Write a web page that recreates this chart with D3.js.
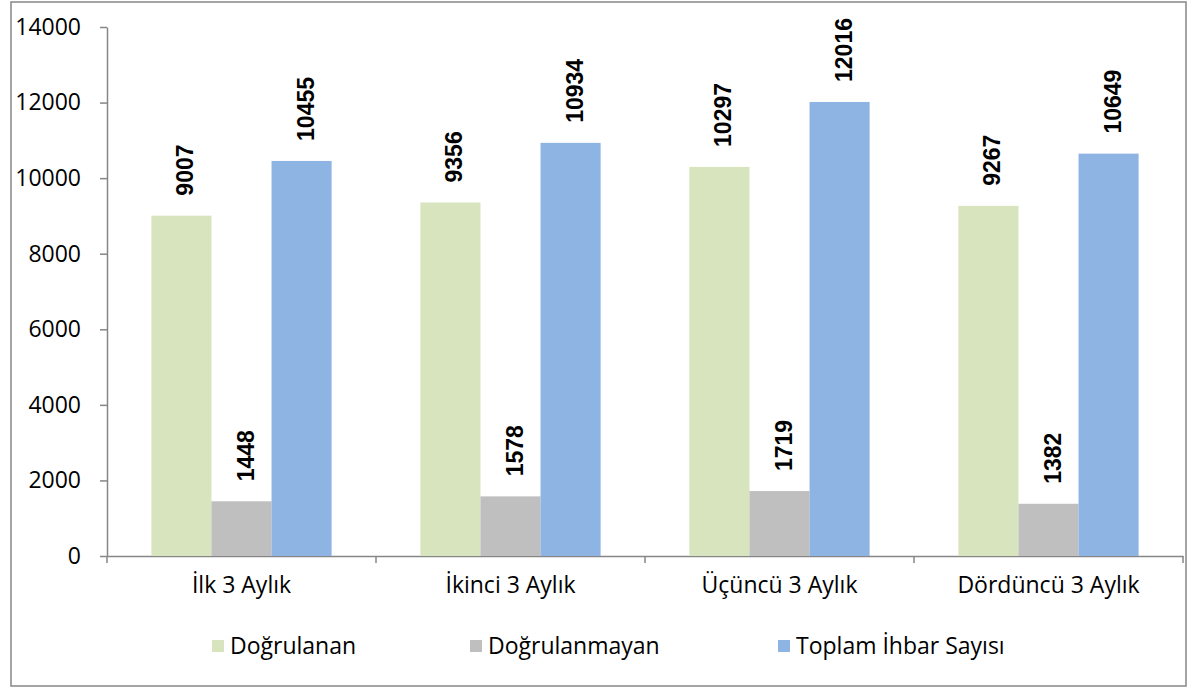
<!DOCTYPE html>
<meta charset="utf-8">
<style>
    body { margin: 0; background: #fff; }
    svg { display: block; font-family: "Open Sans", sans-serif; }
    .frame { fill: #fff; stroke: #868686; stroke-width: 1.5px; }
    .axis path, .axis line { stroke: #868686; stroke-width: 1.5px; }
    .axis text { fill: #000; font-size: 23px; font-family: "Open Sans", sans-serif; }
    .val { font: bold 23px "Liberation Sans", Arial, sans-serif; fill: #000; }
    .legend text { font-size: 23px; fill: #000; }
</style>
<body>
<script src="https://cdn.jsdelivr.net/npm/d3@7"></script>
<script>
    var categories = ["İlk 3 Aylık", "İkinci 3 Aylık", "Üçüncü 3 Aylık", "Dördüncü 3 Aylık"];
    var seriesNames = ["Doğrulanan", "Doğrulanmayan", "Toplam İhbar Sayısı"];
    var dogrulanan = [9007, 9356, 10297, 9267];
    var dogrulanmayan = [1448, 1578, 1719, 1382];
    var toplam = [10455, 10934, 12016, 10649];
    var yTicks = [0, 2000, 4000, 6000, 8000, 10000, 12000, 14000];
    var colors = ["#d7e4bd", "#bfbfbf", "#8eb4e3"];

    var series = [dogrulanan, dogrulanmayan, toplam];

    var width = 1191, height = 689;
    var margin = {left: 107, right: 8, top: 27, bottom: 133};

    var svg = d3.select("body").append("svg")
        .attr("width", width)
        .attr("height", height);

    svg.append("rect").attr("class", "frame")
        .attr("x", 11).attr("y", 2)
        .attr("width", 1175).attr("height", 684);

    var x0 = d3.scaleBand()
        .domain(categories)
        .range([margin.left, width - margin.right])
        .paddingInner(0).paddingOuter(0);

    var groupW = x0.bandwidth() * 0.67;
    var x1 = d3.scaleBand()
        .domain(d3.range(series.length))
        .range([0, groupW]);

    var y = d3.scaleLinear()
        .domain([0, 14000])
        .range([height - margin.bottom, margin.top]);

    // y axis
    svg.append("g").attr("class", "axis")
        .attr("transform", "translate(" + margin.left + ",0)")
        .call(d3.axisLeft(y).tickValues(yTicks).tickSize(7).tickSizeOuter(0).tickPadding(19).tickFormat(d3.format("d")));

    // x axis
    var xAxis = svg.append("g").attr("class", "axis")
        .attr("transform", "translate(0," + y(0) + ")")
        .call(d3.axisBottom(x0).tickSize(0).tickSizeOuter(0).tickPadding(21));
    // boundary ticks between categories
    var bounds = categories.map(function(c) { return x0(c); }).concat([x0.range()[1]]);
    xAxis.selectAll(".bound").data(bounds).enter().append("line")
        .attr("class", "bound")
        .attr("x1", function(d) { return d; }).attr("x2", function(d) { return d; })
        .attr("y1", 0).attr("y2", 7);

    // bars
    var groups = svg.selectAll(".grp")
        .data(categories)
        .enter().append("g")
        .attr("class", "grp")
        .attr("transform", function(c) { return "translate(" + (x0(c) + (x0.bandwidth() - groupW) / 2) + ",0)"; });

    groups.selectAll("rect")
        .data(function(c, i) { return series.map(function(s, k) { return {k: k, v: s[i]}; }); })
        .enter().append("rect")
        .attr("x", function(d) { return x1(d.k); })
        .attr("y", function(d) { return y(d.v); })
        .attr("width", x1.bandwidth())
        .attr("height", function(d) { return y(0) - y(d.v); })
        .attr("fill", function(d) { return colors[d.k]; });

    groups.selectAll(".val")
        .data(function(c, i) { return series.map(function(s, k) { return {k: k, v: s[i]}; }); })
        .enter().append("text")
        .attr("class", "val")
        .attr("transform", function(d) {
            return "translate(" + (x1(d.k) + x1.bandwidth() / 2 + 12) + "," + (y(d.v) - 20) + ") rotate(-90)";
        })
        .attr("text-anchor", "start")
        .text(function(d) { return d.v; });

    // legend
    var legendX = [212, 470, 778];
    var legend = svg.append("g").attr("class", "legend");
    var li = legend.selectAll("g").data(seriesNames).enter().append("g")
        .attr("transform", function(d, i) { return "translate(" + legendX[i] + ",646)"; });
    li.append("rect").attr("x", 0).attr("y", -6).attr("width", 12).attr("height", 12)
        .attr("fill", function(d, i) { return colors[i]; });
    li.append("text").attr("x", 18).attr("dy", "0.35em").text(function(d) { return d; });
</script>
</body>
</html>
